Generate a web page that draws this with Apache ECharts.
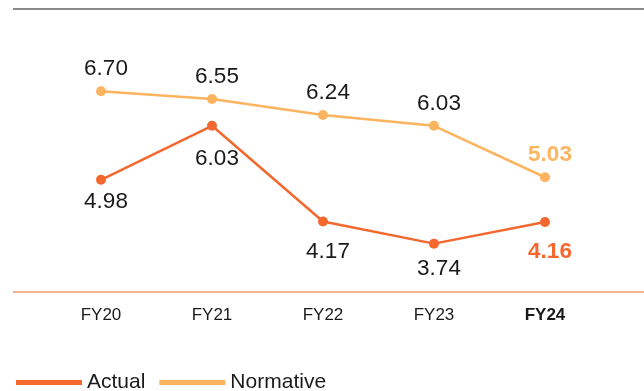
<!DOCTYPE html>
<html>
<head>
<meta charset="utf-8">
<script src="https://cdn.jsdelivr.net/npm/echarts@6/dist/echarts.min.js"></script>
<style>
  html, body { margin: 0; padding: 0; background: #fff; }
  #chart { width: 644px; height: 391px; }
</style>
</head>
<body>
<div id="chart"></div>
<script>
const years = ['FY20', 'FY21', 'FY22', 'FY23', 'FY24'];
const actual = [4.98, 6.03, 4.17, 3.74, 4.16];
const normative = [6.70, 6.55, 6.24, 6.03, 5.03];

const ACTUAL_COLOR = '#F4682F';
const NORM_COLOR = '#FDB45F';
const FONT = '"Liberation Sans", Arial, sans-serif';
// label distance from the points, tuned to the reference
const actualDist = [5, 16, 14, 9, 13];
const normDist = [6, 6, 6, 6, 6];

const last = years.length - 1;

function items(values, pos, dists, color) {
    return values.map(function (v, i) {
        let label = { position: pos, distance: dists[i] };
        if (i === last) {
            label.fontWeight = 'bold';
            label.color = color;
        }
        return { value: v, label: label };
    });
}

const valueLabel = {
    show: true,
    fontSize: 22.5,
    fontFamily: FONT,
    color: '#1a1a1a',
    offset: [5, 0],
    formatter: function (p) { return p.value.toFixed(2); }
};

const chart = echarts.init(document.getElementById('chart'));
chart.setOption({
    animation: false,
    grid: { left: 45.5, right: 43.5, top: 9, bottom: 99 },
    xAxis: {
        type: 'category',
        data: years,
        axisLine: { show: false },
        axisTick: { show: false },
        axisLabel: {
            margin: 15,
            fontSize: 17,
            fontFamily: FONT,
            color: '#1a1a1a',
            formatter: function (v, i) { return i === last ? '{b|' + v + '}' : v; },
            rich: { b: { fontWeight: 'bold', fontSize: 17, fontFamily: FONT, color: '#1a1a1a' } }
        }
    },
    yAxis: { type: 'value', min: 2.8, max: 8.3, show: false, splitLine: { show: false } },
    legend: {
        left: 11,
        top: 367,
        icon: 'rect',
        itemWidth: 66,
        itemHeight: 5,
        itemGap: 14,
        textStyle: { fontSize: 21, fontFamily: FONT, color: '#1a1a1a' },
        data: ['Actual', 'Normative']
    },
    graphic: [
        { type: 'line', shape: { x1: 13, y1: 9, x2: 644, y2: 9 }, style: { stroke: '#8a8a8a', lineWidth: 2 } },
        { type: 'line', shape: { x1: 13, y1: 292, x2: 644, y2: 292 }, style: { stroke: '#F29879', lineWidth: 1.5 } }
    ],
    series: [
        {
            name: 'Actual',
            type: 'line',
            data: items(actual, 'bottom', actualDist, ACTUAL_COLOR),
            color: ACTUAL_COLOR,
            symbol: 'circle',
            symbolSize: 10,
            lineStyle: { width: 2.5 },
            label: valueLabel
        },
        {
            name: 'Normative',
            type: 'line',
            data: items(normative, 'top', normDist, NORM_COLOR),
            color: NORM_COLOR,
            symbol: 'circle',
            symbolSize: 10,
            lineStyle: { width: 2.5 },
            label: valueLabel
        }
    ]
});
</script>
</body>
</html>
